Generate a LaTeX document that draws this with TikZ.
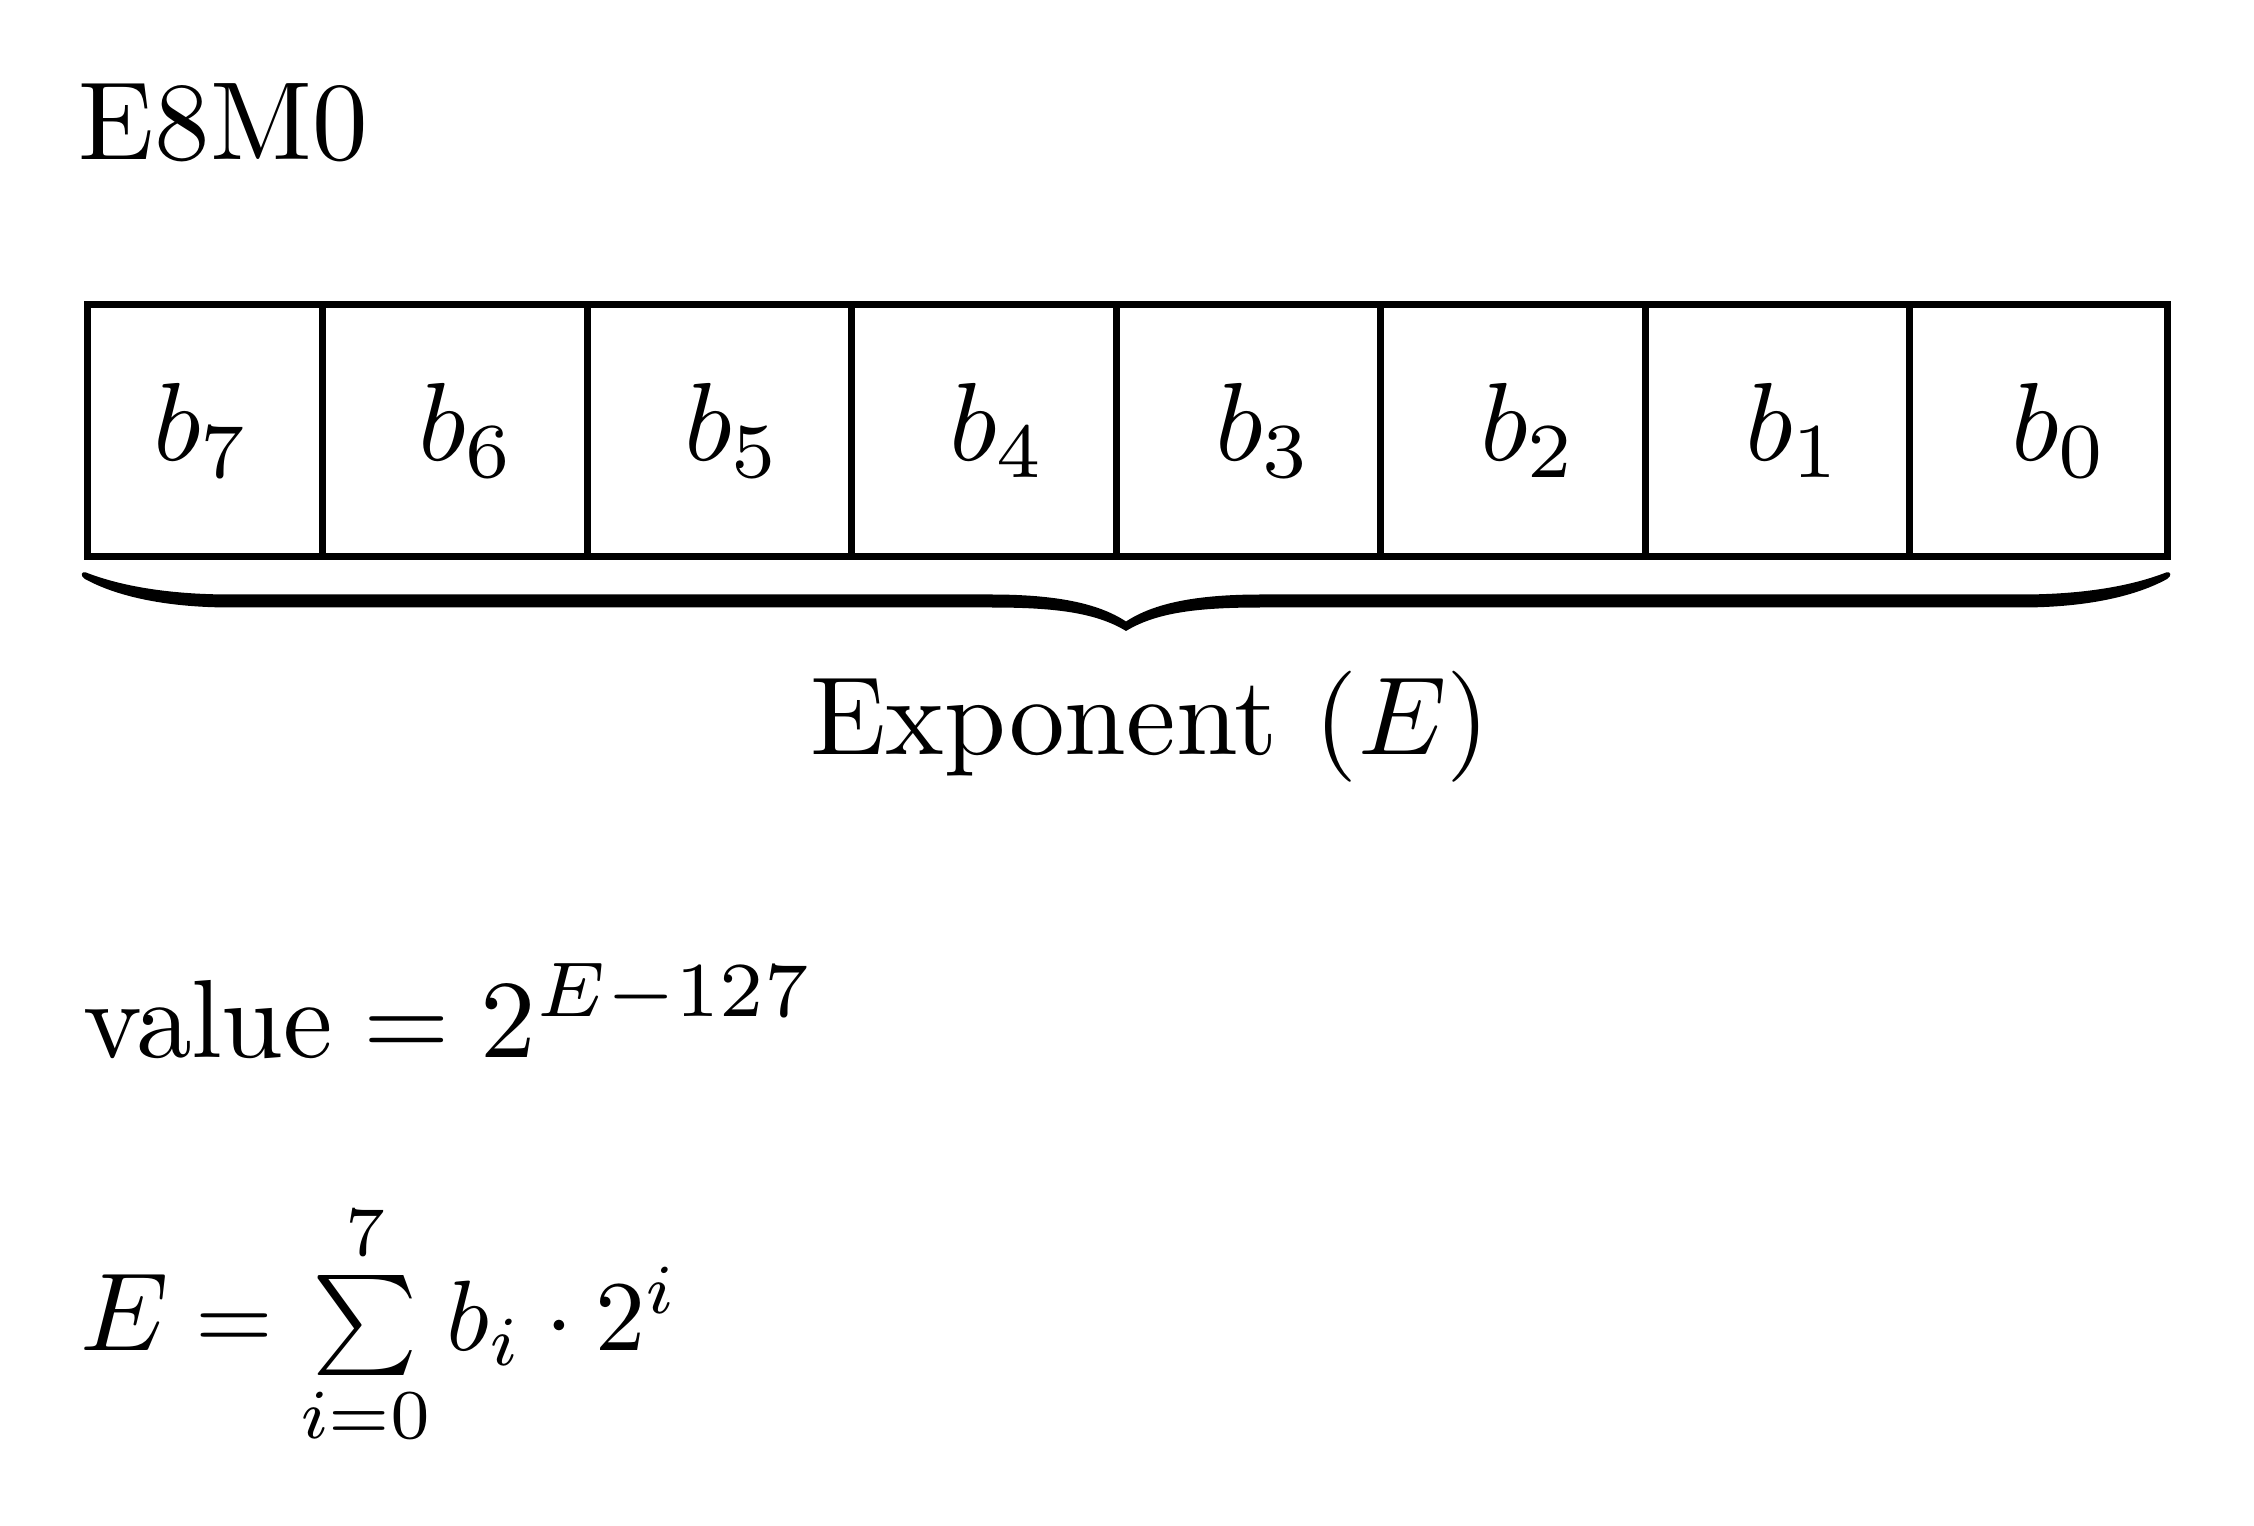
\documentclass[tikz,border=0pt]{standalone}
\usepackage{graphicx}
\begin{document}
\begin{tikzpicture}[x=0.09pt,y=-0.09pt,
  lbl/.style={inner sep=0pt, outer sep=0pt},
  cellline/.style={line width=0.63pt, line join=miter}]
\useasboundingbox (0,0) rectangle (2254,1525);
\node[lbl, anchor=base west] (title) at (79,159.5) {E8M0};
\draw[cellline] (87,305) rectangle (2167,557);
\foreach \x in {322.5,587,851.5,1116,1380.5,1645,1909.5}
  \draw[cellline] (\x,305) -- (\x,557);
\foreach \i/\x in {7/202,6/467,5/733,4/998,3/1264,2/1529,1/1794,0/2060}
  \node[lbl, anchor=base] (b\i) at (\x,461) {$b_{\i}$};
\fill (86,572.5) .. controls (118,585) and (165,594.5) .. (231,594.5)
  -- (991,594.5) .. controls (1055,594.5) and (1098,603) .. (1126,621.5)
  .. controls (1154,603) and (1197,594.5) .. (1261,594.5)
  -- (2021,594.5) .. controls (2087,594.5) and (2134,585) .. (2166,572.5)
  .. controls (2171,571) and (2172,576) .. (2167,579)
  .. controls (2138,595) and (2090,607.5) .. (2021,607.5)
  -- (1261,607.5) .. controls (1200,607.5) and (1157,612) .. (1126,631)
  .. controls (1095,612) and (1052,607.5) .. (991,607.5)
  -- (231,607.5) .. controls (162,607.5) and (114,595) .. (85,579)
  .. controls (80,576) and (81,571) .. (86,572.5) -- cycle;
\node[lbl, anchor=base] (exp) at (1150,755) {Exponent ($E$)};
\node[lbl, anchor=base west] (val) at (83,1057) {$\mathrm{value} = 2^{E-127}$};
\node[lbl, anchor=base west] (sum) at (80,1350) {$E$\hspace{2.4pt}\scalebox{0.9}{$= \sum\limits_{i=0}^{7} b_i \cdot 2^i$}};
\end{tikzpicture}
\end{document}
